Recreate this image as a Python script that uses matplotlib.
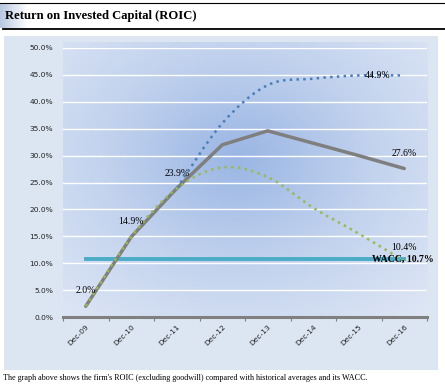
import numpy as np
import matplotlib
matplotlib.use("Agg")
import matplotlib.pyplot as plt
from matplotlib.path import Path
from matplotlib.patches import PathPatch
from matplotlib.lines import Line2D

periods = ["Dec-09", "Dec-10", "Dec-11", "Dec-12", "Dec-13", "Dec-14", "Dec-15", "Dec-16"]
roic = [2.0, 14.9, 23.9, 32.0, 34.6, 32.3, 30.0, 27.6]
hist_high = [None, None, 23.9, 36.0, 43.1, 44.3, 44.9, 44.9]
hist_avg = [2.0, 14.9, 23.9, 27.8, 26.0, 20.3, 15.5, 10.4]
wacc = 10.7
yticks = [0, 5, 10, 15, 20, 25, 30, 35, 40, 45, 50]

W, H = 445, 387
SERIF = "Liberation Serif"


def fx(px):
    return px / W


def fy(py):
    return 1 - py / H


def smooth_path(xs, ys):
    # excel style smoothed line: catmull-rom segments as cubic beziers
    pts = [(x, y) for x, y in zip(xs, ys) if y is not None]
    verts = [pts[0]]
    codes = [Path.MOVETO]
    n = len(pts)
    for i in range(n - 1):
        p0 = pts[max(i - 1, 0)]
        p1 = pts[i]
        p2 = pts[i + 1]
        p3 = pts[min(i + 2, n - 1)]
        c1 = (p1[0] + (p2[0] - p0[0]) / 6, p1[1] + (p2[1] - p0[1]) / 6)
        c2 = (p2[0] - (p3[0] - p1[0]) / 6, p2[1] - (p3[1] - p1[1]) / 6)
        verts += [c1, c2, p2]
        codes += [Path.CURVE4] * 3
    return Path(verts, codes)


fig = plt.figure(figsize=(W / 100, H / 100), dpi=100)

# outer panel, drawn under everything
panel = fig.add_axes([fx(4), fy(370), fx(434), (370 - 36) / H])
panel.set_facecolor("#dce6f2")
panel.set_xticks([])
panel.set_yticks([])
for s in panel.spines.values():
    s.set_visible(False)
panel.set_zorder(-5)

# title bar
fig.add_artist(Line2D([0, 1], [fy(3), fy(3)], color="black", lw=0.8))
fig.add_artist(Line2D([fx(3), 1], [fy(29), fy(29)], color="black", lw=1.3))
tb = fig.add_axes([0, fy(28.5), fx(28), (28.5 - 4) / H])
tb.imshow(np.linspace(0, 1, 50)[None, :], cmap=matplotlib.colors.LinearSegmentedColormap.from_list(
    "tb", ["#b7c8e2", "#ffffff"]), aspect="auto", extent=[0, 1, 0, 1])
tb.set_axis_off()
tb.set_zorder(-4)
fig.text(fx(5), fy(16.5), "Return on Invested Capital (ROIC)", family=SERIF,
         fontweight="bold", fontsize=9.1, va="center", ha="left")

fig.text(fx(3), fy(378), "The graph above shows the firm's ROIC (excluding goodwill) compared with "
         "historical averages and its WACC.", family=SERIF, fontsize=5.9, va="center", ha="left")

# gradient behind the plot
bg = fig.add_axes([fx(63), fy(317), fx(427 - 63), (317 - 42) / H])
gx, gy = np.meshgrid(np.linspace(0, 1, 300), np.linspace(0, 1, 300))
r = np.sqrt(((gx - 0.48) / 0.75) ** 2 + ((gy - 0.42) / 0.8) ** 2)
r = np.clip(r, 0, 1)
cmap = matplotlib.colors.LinearSegmentedColormap.from_list(
    "bgr", ["#9ab6e4", "#c3d3ee", "#dfe7f5"])
bg.imshow(r, cmap=cmap, aspect="auto", extent=[0, 1, 0, 1], origin="upper")
bg.set_axis_off()
bg.set_zorder(-3)

ax = fig.add_axes([fx(63), fy(317), fx(427 - 63), (317 - 48) / H])
ax.patch.set_visible(False)
x = np.arange(len(periods))
ax.set_xlim(-0.5, len(periods) - 0.5)
ax.set_ylim(0, 50)

for t in yticks[1:]:
    ax.axhline(t, color="white", lw=1.0, zorder=1)

ax.plot(x, roic, color="#7f7f7f", lw=2.5, zorder=3, solid_capstyle="round")
ax.add_patch(PathPatch(smooth_path(x, hist_high), fill=False, edgecolor="#4a7ebb",
                       lw=1.8, linestyle=(0, (1, 1.7)), capstyle="butt", zorder=4))
ax.add_patch(PathPatch(smooth_path(x, hist_avg), fill=False, edgecolor="#98b954",
                       lw=1.8, linestyle=(0, (1, 1.7)), capstyle="butt", zorder=5))
ax.plot([x[0], x[-1]], [wacc, wacc], color="#4bacc6", lw=2.8, zorder=2)

lab = dict(family=SERIF, fontsize=7, ha="center", va="center", textcoords="offset points", zorder=6)
ax.annotate("2.0%", (x[0], roic[0]), xytext=(0, 11), **lab)
ax.annotate("14.9%", (x[1], roic[1]), xytext=(0, 11), **lab)
ax.annotate("23.9%", (x[2], roic[2]), xytext=(0, 11), **lab)
ax.annotate("27.6%", (x[-1], roic[-1]), xytext=(0, 11), **lab)
ax.annotate("44.9%", (x[-1], hist_high[-1]), xytext=(-19, 0), **lab)
ax.annotate("10.4%", (x[-1], hist_avg[-1]), xytext=(0, 10), **lab)
ax.annotate("WACC, 10.7%", (x[-1], wacc), xytext=(-1, 0), fontweight="bold", **lab)

for s in ["top", "right", "left"]:
    ax.spines[s].set_visible(False)
ax.spines["bottom"].set_color("#808080")
ax.spines["bottom"].set_linewidth(2.2)
ax.spines["bottom"].set_zorder(2)

ax.set_yticks(yticks)
ax.set_yticklabels([f"{t:.1f}%" for t in yticks], fontsize=5.4, color="#222222")
ax.tick_params(axis="y", length=0, pad=7)
ax.set_xticks(np.arange(len(periods) + 1) - 0.5, minor=True)
ax.set_xticks(x)
ax.set_xticklabels(periods, rotation=45, ha="right", rotation_mode="anchor",
                   fontsize=5.4, color="#222222")
ax.tick_params(axis="x", which="major", length=0, pad=5)
ax.tick_params(axis="x", which="minor", length=3, width=0.8, color="#808080", direction="out")

fig.savefig("out.png", dpi=100)
